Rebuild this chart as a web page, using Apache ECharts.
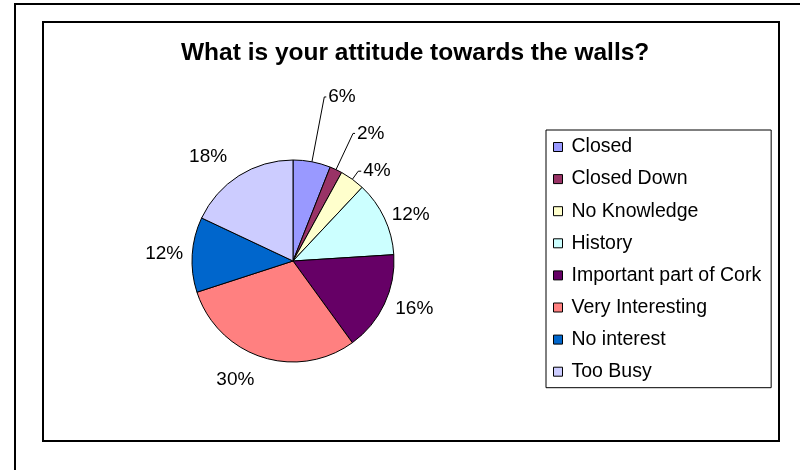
<!DOCTYPE html>
<html>
<head>
<meta charset="utf-8">
<script src="https://cdn.jsdelivr.net/npm/echarts@6/dist/echarts.min.js"></script>
<style>
  html, body { margin: 0; padding: 0; background: #fff; }
  #chart { width: 800px; height: 470px; }
</style>
</head>
<body>
<div id="chart"></div>
<script>
// Survey answers, percent of respondents
const categories = ['Closed', 'Closed Down', 'No Knowledge', 'History',
  'Important part of Cork', 'Very Interesting', 'No interest', 'Too Busy'];
const shares = [6, 2, 4, 12, 16, 30, 12, 18];

// Classic office palette, one colour per answer
const sliceColors = ['#9999FF', '#993366', '#FFFFCC', '#CCFFFF',
  '#660066', '#FF8080', '#0066CC', '#CCCCFF'];

// Leader settings per slice: [length, length2, show line]
const leaders = [
  [66, 2, true], [40, 2, true], [10, 3, true], [8, 0, false],
  [12, 0, false], [24, 0, false], [9, 0, false], [22, 0, false]
];

const FONT = '"Liberation Sans", Arial, Helvetica, sans-serif';

const pieData = categories.map((name, i) => ({
  name: name,
  value: shares[i],
  itemStyle: { color: sliceColors[i] },
  labelLine: {
    show: leaders[i][2],
    length: leaders[i][0],
    length2: leaders[i][1]
  },
  label: { distanceToLabelLine: leaders[i][2] ? 2 : 0 }
}));

const chart = echarts.init(document.getElementById('chart'), null, { renderer: 'canvas' });

chart.setOption({
  backgroundColor: '#ffffff',
  animation: false,
  graphic: [
    {
      type: 'rect', silent: true, z: -10,
      shape: { x: 15, y: 4, width: 820, height: 500 },
      style: { fill: '#ffffff', stroke: '#000000', lineWidth: 2 }
    },
    {
      type: 'rect', silent: true, z: -9,
      shape: { x: 43, y: 22, width: 736, height: 419 },
      style: { fill: '#ffffff', stroke: '#000000', lineWidth: 2 }
    }
  ],
  title: {
    text: 'What is your attitude towards the walls?',
    left: 181,
    top: 41,
    padding: 0,
    textStyle: { fontFamily: FONT, fontSize: 24.5, fontWeight: 'bold', color: '#000' }
  },
  legend: {
    orient: 'vertical',
    left: 546,
    top: 130,
    padding: [7, 10, 6, 7],
    itemGap: 12.1,
    itemWidth: 9,
    itemHeight: 9,
    icon: 'rect',
    borderColor: '#000000',
    borderWidth: 1,
    backgroundColor: '#ffffff',
    itemStyle: { borderColor: '#000000', borderWidth: 1 },
    textStyle: { fontFamily: FONT, fontSize: 19.5, color: '#000', lineHeight: 20, padding: [0, 0, 0, 4] },
    data: categories
  },
  series: [{
    type: 'pie',
    center: [293, 261],
    radius: 101,
    startAngle: 90,
    clockwise: true,
    avoidLabelOverlap: false,
    itemStyle: { borderColor: '#000000', borderWidth: 1 },
    label: {
      show: true,
      position: 'outside',
      formatter: p => p.value + '%',
      fontFamily: FONT,
      fontSize: 19,
      color: '#000'
    },
    labelLine: {
      lineStyle: { color: '#000000', width: 1 },
      smooth: false
    },
    emphasis: { disabled: true },
    data: pieData
  }]
});
</script>
</body>
</html>
